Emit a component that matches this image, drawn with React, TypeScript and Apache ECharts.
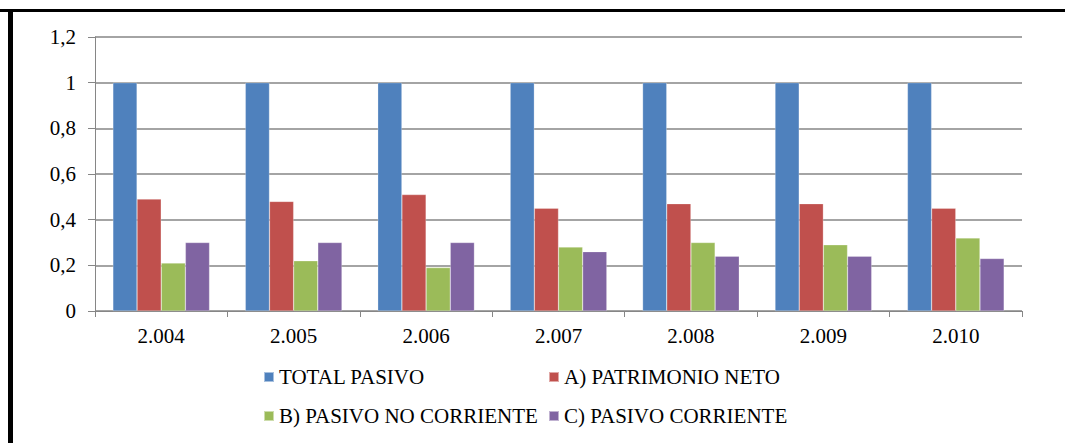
import React, { useEffect, useRef } from "react";
import * as echarts from "echarts";

const categories = ["2.004", "2.005", "2.006", "2.007", "2.008", "2.009", "2.010"];
const totalPasivo = [1, 1, 1, 1, 1, 1, 1];
const patrimonioNeto = [0.49, 0.48, 0.51, 0.45, 0.47, 0.47, 0.45];
const pasivoNoCorriente = [0.21, 0.22, 0.19, 0.28, 0.3, 0.29, 0.32];
const pasivoCorriente = [0.3, 0.3, 0.3, 0.26, 0.24, 0.24, 0.23];
const seriesNames = [
  "TOTAL PASIVO",
  "A) PATRIMONIO NETO",
  "B) PASIVO NO CORRIENTE",
  "C) PASIVO CORRIENTE",
];
const colors = ["#4F81BD", "#C0504D", "#9BBB59", "#8064A2"];

const FONT = "Liberation Serif";
const FS = 21;

export default function App() {
  const ref = useRef<HTMLDivElement>(null);
  useEffect(() => {
    if (!ref.current) return;
    const chart = echarts.init(ref.current, undefined, { renderer: "svg" });
    const values = [totalPasivo, patrimonioNeto, pasivoNoCorriente, pasivoCorriente];
    const legendBase = {
      orient: "vertical" as const,
      padding: 0,
      itemWidth: 10,
      itemHeight: 10,
      itemGap: 15,
      icon: "rect",
      selectedMode: false,
      textStyle: { fontFamily: FONT, fontSize: FS, color: "#000", lineHeight: 24 },
    };
    chart.setOption({
      animation: false,
      color: colors,
      graphic: [
        { type: "rect", shape: { x: 0, y: 9, width: 1065, height: 3 }, style: { fill: "#000" } },
        { type: "rect", shape: { x: 8, y: 9, width: 5, height: 434 }, style: { fill: "#000" } },
      ],
      legend: [
        { ...legendBase, left: 263, top: 365, data: [seriesNames[0], seriesNames[2]] },
        { ...legendBase, left: 548, top: 365, data: [seriesNames[1], seriesNames[3]] },
      ],
      grid: { left: 95, right: 43, top: 37, bottom: 132 },
      xAxis: {
        type: "category",
        data: categories,
        axisLine: { show: true, lineStyle: { color: "#868686", width: 1 } },
        axisTick: { show: true, length: 6, lineStyle: { color: "#868686" } },
        axisLabel: { fontFamily: FONT, fontSize: FS, color: "#000", margin: 14 },
      },
      yAxis: {
        type: "value",
        min: 0,
        max: 1.2,
        interval: 0.2,
        axisLine: { show: true, lineStyle: { color: "#868686", width: 1 } },
        axisTick: { show: true, length: 7, lineStyle: { color: "#868686" } },
        splitLine: { show: true, lineStyle: { color: "#868686", width: 1.5 } },
        axisLabel: {
          fontFamily: FONT,
          fontSize: FS,
          color: "#000",
          margin: 19,
          formatter: (v: number) => String(Math.round(v * 10) / 10).replace(".", ","),
        },
      },
      series: values.map((d, i) => ({
        name: seriesNames[i],
        type: "bar",
        data: d,
        barGap: "0%",
        barCategoryGap: "27%",
        itemStyle: { color: colors[i], borderColor: "rgba(255,255,255,0.5)", borderWidth: 0.5 },
      })),
    });
    return () => chart.dispose();
  }, []);
  return (
    <div
      ref={ref}
      style={{ position: "fixed", left: 0, top: 0, width: 1065, height: 443, background: "#fff" }}
    />
  );
}
